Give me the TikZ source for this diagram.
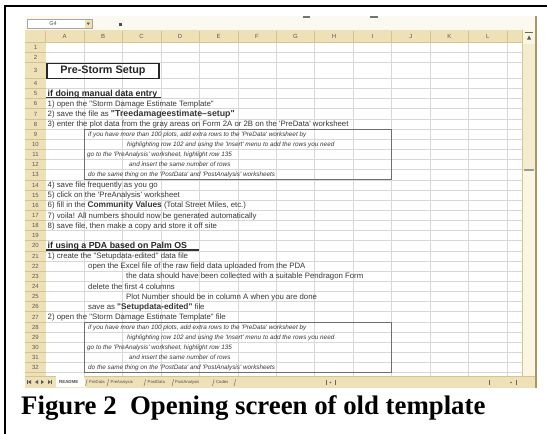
\documentclass[tikz,border=0pt]{standalone}
\usepackage{fontspec}
\setmainfont{Liberation Serif}
\newfontfamily\arial{Liberation Sans}
\definecolor{hdrtan}{RGB}{238,225,183}
\definecolor{hdrline}{RGB}{212,196,148}
\definecolor{gridgray}{RGB}{216,216,216}
\definecolor{fbar}{RGB}{251,249,240}
\definecolor{scrollc}{RGB}{250,246,226}
\definecolor{thumbc}{RGB}{243,236,206}
\definecolor{edgebrown}{RGB}{170,150,100}
\definecolor{txt}{RGB}{55,55,55}
\definecolor{boxline}{RGB}{110,110,110}
\begin{document}
\begin{tikzpicture}[x=1pt,y=-1pt,
  declare function={rt(\r)=ifthenelse(\r<4,42+(\r-1)*10.15,78.3+(\r-4)*10.15);},
  txtcell/.style={font=\arial\fontsize{7.8}{8}\selectfont,text=txt,anchor=base west,inner sep=0pt},
  headtxt/.style={font=\arial\bfseries\fontsize{8.8}{9}\selectfont,text=black!85,anchor=base west,inner sep=0pt},
  boxtxt/.style={font=\arial\itshape\fontsize{6.35}{7}\selectfont,text=txt,anchor=base west,inner sep=0pt},
  hdrtxt/.style={font=\arial\fontsize{6}{7}\selectfont,text=black!65,inner sep=0pt},
  tabtxt/.style={font=\arial\fontsize{4.2}{5}\selectfont,text=black!70,inner sep=0pt,anchor=base west},
  gridln/.style={draw=gridgray,line width=0.6pt},
  hdrln/.style={draw=hdrline,line width=0.6pt},
  tabsep/.style={draw=black!60,line width=0.45pt},
  tri/.style={fill=black!65}]
\useasboundingbox (0,0) rectangle (547,434);
\fill[white] (0,0) rectangle (547,434);
% outer frame (top and left)
\draw[line width=2.2pt] (5,434) -- (5,6) -- (547,6);

% ---------- spreadsheet ----------
% formula bar area
\fill[fbar] (25,15.5) rectangle (536,29.5);
\fill[black!55] (303,15.5) rectangle (310,17.5);
\fill[black!55] (370,15.5) rectangle (378,17.5);
\draw[draw=black!35,fill=white] (27.5,19.5) rectangle (92,28);
\fill[hdrtan] (85,20) rectangle (91.5,27.5);
\fill[tri] (86.5,22.5) -- (90,22.5) -- (88.25,25) -- cycle;
\node[font=\arial\fontsize{5.5}{6}\selectfont,text=black!70,inner sep=0pt] (namebox) at (53,24) {G4};
\fill[black!70] (118.5,22.5) rectangle (122,25.5);

% cells
\fill[white] (45.5,42) rectangle (522,376);
\foreach \k in {1,...,12} \draw[gridln] ({45.5+38.46*\k},42) -- ({45.5+38.46*\k},376);
\foreach \r in {2,...,33} \draw[gridln] (45.5,{rt(\r)}) -- (522,{rt(\r)});

% headers
\fill[hdrtan] (25,29.5) rectangle (522,42);
\fill[hdrtan] (25,29.5) rectangle (45.5,376);
\foreach \k in {0,...,12} \draw[hdrln] ({45.5+38.46*\k},30.5) -- ({45.5+38.46*\k},42);
\foreach \r in {2,...,33} \draw[hdrln] (25,{rt(\r)}) -- (45.5,{rt(\r)});
\draw[hdrln] (25,42) -- (522,42);
\foreach \c [count=\k from 0] in {A,B,C,D,E,F,G,H,I,J,K,L}
  \node[hdrtxt] (col\c) at ({45.5+38.46*(\k+0.5)},36.2) {\c};
\foreach \r in {1,...,32} {
  \pgfmathsetmacro\yc{ifthenelse(\r==3,rt(3)+8.5,rt(\r)+5.2)}
  \node[hdrtxt] (row\r) at (35.5,\yc) {\r};
}

% vertical scrollbar
\fill[scrollc] (522,29.5) rectangle (535.5,376);
\draw[hdrln] (522,29.5) -- (522,376);
\fill[thumbc] (523,44) rectangle (535,170);
\fill[black!40] (524,169) rectangle (534,170.5);
\draw[black!60,line width=0.8pt] (525,32) -- (533,32);
\fill[tri] (527,39.5) -- (531,39.5) -- (529,35.5) -- cycle;
\draw[edgebrown,line width=1.2pt] (535.9,15.5) -- (535.9,388);

% sheet tabs bar
\fill[hdrtan] (25,376) rectangle (535.3,388);
\draw[hdrln] (25,376) -- (535.3,376);
\fill[tri] (28,382) -- (31,380) -- (31,384) -- cycle;
\fill[tri] (35,382) -- (38,380) -- (38,384) -- cycle;
\fill[tri] (44,382) -- (41,380) -- (41,384) -- cycle;
\fill[tri] (51,382) -- (48,380) -- (48,384) -- cycle;
\draw[black!65,line width=0.5pt] (27.5,380) -- (27.5,384) (51.5,380) -- (51.5,384);
\fill[white] (56,376) -- (84,376) -- (86,387) -- (56,387) -- cycle;
\node[tabtxt,font=\arial\bfseries\fontsize{4.4}{5}\selectfont] (tab1) at (59,383.7) {README};
\node[tabtxt] (tab2) at (89,383.7) {PreData};
\node[tabtxt] (tab3) at (110.5,383.7) {PreAnalysis};
\node[tabtxt] (tab4) at (147.5,383.7) {PostData};
\node[tabtxt] (tab5) at (175,383.7) {PostAnalysis};
\node[tabtxt] (tab6) at (216,383.7) {Codes};
\foreach \sx in {85.5,107,144,172,212.5,234} \draw[tabsep] (\sx,386) -- (\sx+1.6,379.5);
\draw[black!60,line width=0.5pt] (326,380) -- (326,385) (335,380) -- (335,385);
\fill[black!60] (330.5,382.5) circle (0.9);
\draw[black!60,line width=0.5pt] (489,380) -- (489,385) (516,380) -- (516,385);
\fill[black!60] (511,382.5) circle (0.9);

% ---------- cell contents ----------
\draw[line width=1.7pt,black!85] (47,63.5) rectangle (159,78.5);
\node[font=\arial\bfseries\fontsize{10.8}{11}\selectfont,inner sep=0pt,text=black!85] (title) at (103,71.3) {Pre-Storm Setup};

\node[headtxt] (t5) at (47.5,{rt(5)+7.7}) {if doing manual data entry};
\draw[line width=1.4pt,black!80] (46,{rt(6)-0.9}) -- (161,{rt(6)-0.9});
\node[txtcell] (t6) at (47.5,{rt(6)+7.8}) {1) open the "Storm Damage Estimate Template"};
\node[txtcell] (t7) at (47.5,{rt(7)+7.8}) {2) save the file as {\bfseries\fontsize{8.8}{9}\selectfont"Treedamageestimate–setup"}};
\node[txtcell] (t8) at (47.5,{rt(8)+7.8}) {3) enter the plot data from the gray areas on Form 2A or 2B on the 'PreData' worksheet};
\draw[boxline,line width=0.7pt] (84,{rt(9)}) rectangle (391.6,{rt(14)});
\node[boxtxt] (t9) at (88,{rt(9)+7.3}) {if you have more than 100 plots, add extra rows to the 'PreData' worksheet by};
\node[boxtxt] (t10) at (127,{rt(10)+7.3}) {highlighting row 102 and using the 'Insert' menu to add the rows you need};
\node[boxtxt] (t11) at (87,{rt(11)+7.3}) {go to the 'PreAnalysis' worksheet, highlight row 135};
\node[boxtxt] (t12) at (129,{rt(12)+7.3}) {and insert the same number of rows};
\node[boxtxt] (t13) at (88,{rt(13)+7.3}) {do the same thing on the 'PostData' and 'PostAnalysis' worksheets};
\node[txtcell] (t14) at (47.5,{rt(14)+7.8}) {4) save file frequently as you go};
\node[txtcell] (t15) at (47.5,{rt(15)+7.8}) {5) click on the 'PreAnalysis' worksheet};
\node[txtcell] (t16) at (47.5,{rt(16)+7.8}) {6) fill in the {\bfseries\fontsize{8.3}{9}\selectfont Community Values} (Total Street Miles, etc.)};
\node[txtcell] (t17) at (47.5,{rt(17)+7.8}) {7) voila! All numbers should now be generated automatically};
\node[txtcell] (t18) at (47.5,{rt(18)+7.8}) {8) save file, then make a copy and store it off site};
\node[headtxt] (t20) at (47.5,{rt(20)+7.7}) {if using a PDA based on Palm OS};
\draw[line width=1.4pt,black!80] (46,{rt(21)-0.9}) -- (199.3,{rt(21)-0.9});
\node[txtcell] (t21) at (47.5,{rt(21)+7.8}) {1) create the "Setupdata-edited" data file};
\node[txtcell] (t22) at (88,{rt(22)+7.8}) {open the Excel file of the raw field data uploaded from the PDA};
\node[txtcell] (t23) at (126,{rt(23)+7.8}) {the data should have been collected with a suitable Pendragon Form};
\node[txtcell] (t24) at (88,{rt(24)+7.8}) {delete the first 4 columns};
\node[txtcell] (t25) at (126,{rt(25)+7.8}) {Plot Number should be in column A when you are done};
\node[txtcell] (t26) at (88,{rt(26)+7.8}) {save as {\bfseries\fontsize{8.3}{9}\selectfont"Setupdata-edited"} file};
\node[txtcell] (t27) at (47.5,{rt(27)+7.8}) {2) open the "Storm Damage Estimate Template" file};
\draw[boxline,line width=0.7pt] (84,{rt(28)}) rectangle (391.6,{rt(33)});
\node[boxtxt] (t28) at (88,{rt(28)+7.3}) {if you have more than 100 plots, add extra rows to the 'PreData' worksheet by};
\node[boxtxt] (t29) at (127,{rt(29)+7.3}) {highlighting row 102 and using the 'Insert' menu to add the rows you need};
\node[boxtxt] (t30) at (87,{rt(30)+7.3}) {go to the 'PreAnalysis' worksheet, highlight row 135};
\node[boxtxt] (t31) at (129,{rt(31)+7.3}) {and insert the same number of rows};
\node[boxtxt] (t32) at (88,{rt(32)+7.3}) {do the same thing on the 'PostData' and 'PostAnalysis' worksheets};

% ---------- caption ----------
\node[font=\bfseries\fontsize{26.8}{30}\selectfont,anchor=base west,inner sep=0pt] (caption) at (21,414) {Figure 2\ \ Opening screen of old template};
\end{tikzpicture}
\end{document}
